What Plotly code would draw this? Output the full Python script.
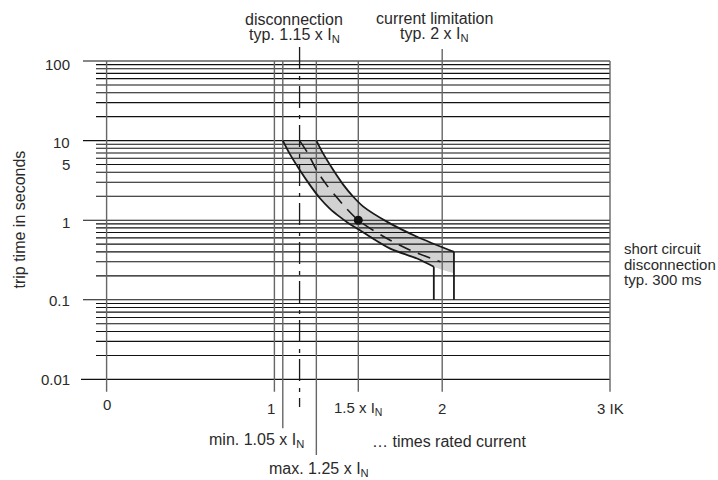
import math
import plotly.graph_objects as go

W, H = 718, 480

# ---------------- data ----------------
x_tick_vals = [0, 1, 1.5, 2, 3]
x_tick_text = ["0", "1", "1.5 x I<sub>N</sub>", "2", "3 IK"]
y_tick_vals = [0.01, 0.1, 1, 5, 10, 100]
y_tick_text = ["0.01", "0.1", "1", "5", "10", "100"]

major_y = [0.01, 0.1, 1, 10, 100]
decades = [0.01, 0.1, 1, 10]
minor_mult = [2, 3, 4, 5, 6, 7, 8, 9]

ref_x = [0, 1, 1.05, 1.25, 1.5, 2, 3]      # solid vertical reference lines
typ_disconnect_x = 1.15                      # dash-dot line

# trip band (times rated current vs trip time s)
lower_x = [1.05, 1.09, 1.15, 1.21, 1.27, 1.33, 1.39, 1.45, 1.51, 1.57, 1.69, 1.85, 1.95]
lower_y = [10, 6.9, 4.3, 2.8, 1.9, 1.4, 1.1, 0.89, 0.75, 0.62, 0.44, 0.33, 0.26]
upper_x = [1.25, 1.29, 1.35, 1.41, 1.47, 1.53, 1.67, 1.85, 2.07]
upper_y = [10, 6.9, 4.3, 2.8, 1.97, 1.48, 0.96, 0.62, 0.40]
typ_x = [1.15, 1.2, 1.25, 1.31, 1.37, 1.43, 1.5, 1.57, 1.69, 1.81, 1.99]
typ_y = [10, 6.9, 4.3, 2.8, 1.95, 1.4, 1.0, 0.79, 0.56, 0.42, 0.30]
band_end_x, band_end_y = 2.07, 0.215
short_circuit_y = 0.1
point_x, point_y = [1.5], [1.0]

# ---------------- geometry helpers (pixels -> axis units) ----------------
X0PX, XSCALE = 106.6, 167.8     # pixel of x=0, pixels per unit
Y1PX, YDEC = 220.2, 79.6        # pixel of y=1, pixels per decade
x_range = [(0 - X0PX) / XSCALE, (W - X0PX) / XSCALE]
y_range = [(Y1PX - H) / YDEC, (Y1PX - 0) / YDEC]


def py2y(py):
    return 10 ** ((Y1PX - py) / YDEC)


def px2x(px):
    return (px - X0PX) / XSCALE


FONT = "Liberation Sans, Arial, Helvetica, sans-serif"
TXT = "#2a2a2a"
HCOL = "#111111"
VCOL = "#666666"
CURVE = "#1a1a1a"

fig = go.Figure()

# band fill
fig.add_trace(go.Scatter(x=lower_x + [band_end_x], y=lower_y + [band_end_y], mode="lines",
                         line=dict(width=0, shape="spline", smoothing=0.8), hoverinfo="skip"))
fig.add_trace(go.Scatter(x=upper_x, y=upper_y, mode="lines", fill="tonexty",
                         fillcolor="#d2d2d2",
                         line=dict(width=0, shape="spline", smoothing=0.8), hoverinfo="skip"))

# horizontal grid lines
gx_end = 3
minor_start = px2x(96)
hx, hy = [], []
for d in decades:
    for m in minor_mult:
        v = m * d
        hx += [minor_start, gx_end, None]
        hy += [v, v, None]
fig.add_trace(go.Scatter(x=hx, y=hy, mode="lines", line=dict(color=HCOL, width=1.1), hoverinfo="skip"))
mx, my = [], []
for v in major_y:
    start = px2x(81) if v == major_y[0] else px2x(83)
    mx += [start, gx_end, None]
    my += [v, v, None]
fig.add_trace(go.Scatter(x=mx, y=my, mode="lines", line=dict(color=HCOL, width=1.1), hoverinfo="skip"))

# vertical reference lines
top_default = 100
v_top = {2: py2y(49)}
v_bottom = {1.05: py2y(428.3), 1.25: py2y(455)}
bottom_default = py2y(391.7)
vx, vy = [], []
for xv in ref_x:
    vx += [xv, xv, None]
    vy += [v_top.get(xv, top_default), v_bottom.get(xv, bottom_default), None]
fig.add_trace(go.Scatter(x=vx, y=vy, mode="lines", line=dict(color=VCOL, width=1.4), hoverinfo="skip"))
fig.add_trace(go.Scatter(x=[typ_disconnect_x, typ_disconnect_x], y=[py2y(47), py2y(407)], mode="lines",
                         line=dict(color=CURVE, width=1.3, dash="22px,7px,4px,6px"), hoverinfo="skip"))

# curves
fig.add_trace(go.Scatter(x=lower_x, y=lower_y, mode="lines",
                         line=dict(color=CURVE, width=1.8, shape="spline", smoothing=0.8), hoverinfo="skip"))
fig.add_trace(go.Scatter(x=upper_x, y=upper_y, mode="lines",
                         line=dict(color=CURVE, width=1.8, shape="spline", smoothing=0.8), hoverinfo="skip"))
fig.add_trace(go.Scatter(x=[lower_x[-1], lower_x[-1]], y=[lower_y[-1], short_circuit_y], mode="lines",
                         line=dict(color=CURVE, width=1.8), hoverinfo="skip"))
fig.add_trace(go.Scatter(x=[upper_x[-1], upper_x[-1]], y=[upper_y[-1], short_circuit_y], mode="lines",
                         line=dict(color=CURVE, width=1.8), hoverinfo="skip"))
fig.add_trace(go.Scatter(x=typ_x, y=typ_y, mode="lines",
                         line=dict(color=CURVE, width=1.6, shape="spline", smoothing=0.8, dash="13px,8px"),
                         hoverinfo="skip"))
fig.add_trace(go.Scatter(x=point_x, y=point_y, mode="markers",
                         marker=dict(color="#111111", size=9), hoverinfo="skip"))

# ---------------- annotations ----------------
ann = []


def txt(text, px, py, size=16, xanchor="center", angle=0):
    ann.append(dict(text=text, x=px / W, y=1 - py / H, xref="paper", yref="paper",
                    showarrow=False, xanchor=xanchor, yanchor="middle", textangle=angle,
                    font=dict(family=FONT, size=size, color=TXT)))


# x tick labels (placed at data x)
x_label_py = [404, 408, 408, 408, 408]
x_label_shift = [0.5, -3.5, 0, 0, 0]
for xv, t, py, sh in zip(x_tick_vals, x_tick_text, x_label_py, x_label_shift):
    ann.append(dict(text=t, x=xv, y=1 - py / H, xref="x", yref="paper", showarrow=False,
                    xanchor="center", yanchor="middle", xshift=sh,
                    font=dict(family=FONT, size=15, color=TXT)))

# y tick labels (placed at data y; log axis -> log10 position)
y_label_shift = [-0.5, -0.5, -2, 0, -1.5, -3]
for yv, t, sh in zip(y_tick_vals, y_tick_text, y_label_shift):
    ann.append(dict(text=t, x=71.5 / W, y=math.log10(yv), xref="paper", yref="y", showarrow=False,
                    xanchor="right", yanchor="middle", yshift=sh,
                    font=dict(family=FONT, size=15, color=TXT)))

txt("disconnection", 294, 19.5)
txt("typ. 1.15 x I<sub>N</sub>", 294, 35.5)
txt("current limitation", 434, 19)
txt("typ. 2 x I<sub>N</sub>", 434, 35)
txt("short circuit", 622, 248, size=15, xanchor="left")
txt("disconnection", 622, 264, size=15, xanchor="left")
txt("typ. 300 ms", 622, 279.5, size=15, xanchor="left")
txt("min. 1.05 x I<sub>N</sub>", 305.5, 440.5, xanchor="right")
txt("max. 1.25 x I<sub>N</sub>", 266.5, 469.5, xanchor="left")
txt("… times rated current", 370, 441, xanchor="left")
txt("trip time in seconds", 19.5, 220, angle=-90)

fig.update_layout(
    width=W, height=H,
    margin=dict(l=0, r=0, t=0, b=0, pad=0),
    template="none",
    paper_bgcolor="white", plot_bgcolor="white",
    showlegend=False,
    xaxis=dict(range=x_range, visible=False, fixedrange=True, automargin=False),
    yaxis=dict(type="log", range=y_range, visible=False, fixedrange=True, automargin=False),
    annotations=ann,
)

fig.write_html(
    "out.html",
    config={"displayModeBar": False},
    post_script="document.body.style.margin='0px';document.body.style.padding='0px';"
                "document.documentElement.style.overflow='hidden';",
)
